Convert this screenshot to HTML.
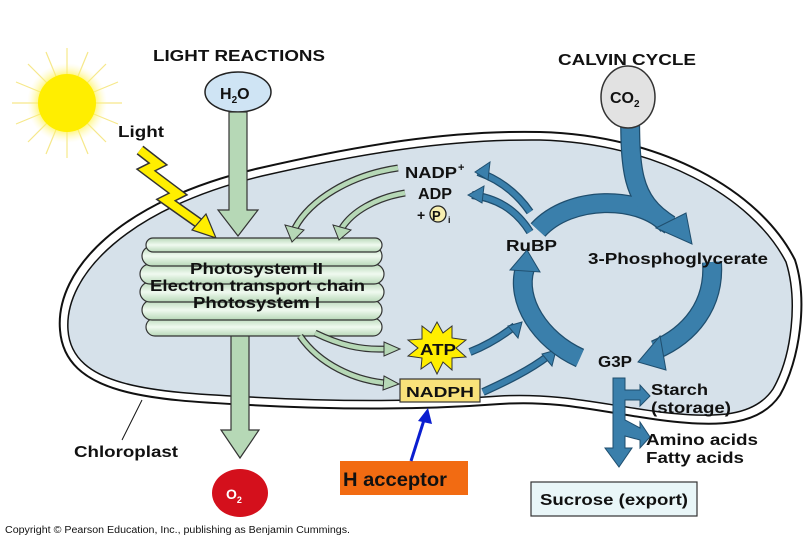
<!DOCTYPE html>
<html><head><meta charset="utf-8"><style>
html,body{margin:0;padding:0;background:#fff}
svg{display:block}
text{font-family:"Liberation Sans",Arial,sans-serif;font-weight:bold;fill:#111}
</style></head><body>
<svg width="810" height="540" viewBox="0 0 810 540" xmlns="http://www.w3.org/2000/svg">
<defs>
<radialGradient id="sun" cx="50%" cy="50%" r="50%">
<stop offset="0.55" stop-color="#ffee00"/><stop offset="1" stop-color="#fff8b0" stop-opacity="0"/>
</radialGradient>
<linearGradient id="disc" x1="0" y1="0" x2="0" y2="1">
<stop offset="0" stop-color="#b8d8b8"/><stop offset="0.5" stop-color="#f0faf0"/><stop offset="1" stop-color="#b8d8b8"/>
</linearGradient>
</defs>

<!-- chloroplast -->
<path d="M60,330 C55,270 120,200 260,168 C360,145 450,130 540,132 C660,135 760,190 795,260 C808,300 800,360 780,395 C760,425 720,428 660,420 C600,412 560,400 500,404 C420,410 340,410 250,405 C150,400 65,395 60,330 Z" fill="#fff" stroke="#111" stroke-width="2"/>
<path d="M68,330 C64,275 128,208 262,176 C362,153 450,139 540,140 C655,143 752,196 786,262 C798,300 792,356 773,389 C755,416 718,419 660,412 C600,404 560,393 500,396 C420,402 340,402 250,397 C155,392 72,388 68,330 Z" fill="#d6e1ea" stroke="#111" stroke-width="1.5"/>

<!-- sun -->
<g stroke="#f6e88a" stroke-width="1.2">
<line x1="67" y1="48" x2="67" y2="158"/><line x1="12" y1="103" x2="122" y2="103"/>
<line x1="28" y1="64" x2="106" y2="142"/><line x1="106" y1="64" x2="28" y2="142"/>
<line x1="46" y1="52" x2="88" y2="154"/><line x1="88" y1="52" x2="46" y2="154"/>
<line x1="16" y1="82" x2="118" y2="124"/><line x1="118" y1="82" x2="16" y2="124"/>
</g>
<circle cx="67" cy="103" r="40" fill="url(#sun)"/>
<circle cx="67" cy="103" r="29" fill="#ffee00"/>

<text x="153" y="61" font-size="16" textLength="172" lengthAdjust="spacingAndGlyphs">LIGHT REACTIONS</text>
<text x="558" y="65" font-size="16" textLength="138" lengthAdjust="spacingAndGlyphs">CALVIN CYCLE</text>
<text x="118" y="137" font-size="16" textLength="46" lengthAdjust="spacingAndGlyphs">Light</text>

<!-- lightning -->
<polyline points="140,150 158,164 146,170 178,194 166,200 200,224" fill="none" stroke="#333" stroke-width="11" stroke-linejoin="miter"/>
<polyline points="140,150 158,164 146,170 178,194 166,200 200,224" fill="none" stroke="#ffee00" stroke-width="8" stroke-linejoin="miter"/>
<polygon points="192,230 206,214 216,238" fill="#ffee00" stroke="#333" stroke-width="1.2"/>

<!-- H2O -->
<ellipse cx="238" cy="92" rx="33" ry="20" fill="#cfe4f4" stroke="#222" stroke-width="1.5"/>
<text x="220" y="99" font-size="16">H<tspan font-size="10" dy="4">2</tspan><tspan dy="-4">O</tspan></text>
<polygon points="229,112 247,112 247,210 258,210 238,236 218,210 229,210" fill="#b6d8b6" stroke="#333" stroke-width="1.2"/>

<!-- O2 arrow -->
<polygon points="231,330 249,330 249,430 259,430 240,458 221,430 231,430" fill="#b6d8b6" stroke="#333" stroke-width="1.2"/>
<ellipse cx="240" cy="493" rx="28" ry="24" fill="#d4101c"/>
<text x="226" y="499" font-size="14" style="fill:#fff">O<tspan font-size="9" dy="4">2</tspan></text>

<!-- thylakoid -->
<g stroke="#333" stroke-width="1.2" fill="url(#disc)">
<rect x="146" y="318" width="236" height="18" rx="9"/>
<rect x="142" y="300" width="240" height="20" rx="10"/>
<rect x="140" y="282" width="244" height="20" rx="10"/>
<rect x="140" y="264" width="244" height="20" rx="10"/>
<rect x="142" y="246" width="240" height="20" rx="10"/>
<rect x="146" y="238" width="236" height="14" rx="7"/>
</g>
<text x="190" y="274" font-size="16" textLength="133" lengthAdjust="spacingAndGlyphs">Photosystem II</text>
<text x="150" y="291" font-size="16" textLength="215" lengthAdjust="spacingAndGlyphs">Electron transport chain</text>
<text x="193" y="308" font-size="16" textLength="127" lengthAdjust="spacingAndGlyphs">Photosystem I</text>

<!-- green curved arrows -->
<g fill="none" stroke="#333" stroke-width="7">
<path d="M398,168 C350,175 310,200 295,228"/>
<path d="M405,193 C375,198 352,212 342,228"/>
<path d="M315,333 C340,345 360,350 385,349"/>
<path d="M300,336 C320,365 355,380 385,383"/>
</g>
<g fill="none" stroke="#b6d8b6" stroke-width="4.5">
<path d="M398,168 C350,175 310,200 295,228"/>
<path d="M405,193 C375,198 352,212 342,228"/>
<path d="M315,333 C340,345 360,350 385,349"/>
<path d="M300,336 C320,365 355,380 385,383"/>
</g>
<g fill="#b6d8b6" stroke="#333" stroke-width="1">
<polygon points="285,225 304,230 292,242"/>
<polygon points="333,225 351,230 339,240"/>
<polygon points="384,342 400,349 384,356"/>
<polygon points="384,376 399,384 383,390"/>
</g>

<text x="405" y="178" font-size="16" textLength="52" lengthAdjust="spacingAndGlyphs">NADP</text><text x="458" y="171" font-size="11">+</text>
<text x="418" y="199" font-size="16" textLength="34" lengthAdjust="spacingAndGlyphs">ADP</text>
<text x="417" y="220" font-size="14">+</text>
<circle cx="438" cy="214" r="8" fill="#f6eeb0" stroke="#222" stroke-width="1.3"/>
<text x="432" y="220" font-size="13">P</text>
<text x="448" y="223" font-size="9">i</text>

<!-- ATP star -->
<polygon points="437,322 443,333 452,326 452,338 466,340 456,348 466,357 452,358 452,370 443,362 437,374 431,362 421,369 422,358 408,356 418,348 408,340 422,339 422,326 431,333" fill="#ffee00" stroke="#333" stroke-width="1"/>
<text x="420" y="355" font-size="16" textLength="36" lengthAdjust="spacingAndGlyphs">ATP</text>

<!-- NADPH -->
<rect x="400" y="379" width="80" height="23" fill="#f9e27a" stroke="#333" stroke-width="1.2"/>
<text x="406" y="397" font-size="15" textLength="68" lengthAdjust="spacingAndGlyphs">NADPH</text>

<!-- H acceptor -->
<rect x="340" y="461" width="128" height="34" fill="#f26b12"/>
<text x="343" y="486" font-size="19" textLength="104" lengthAdjust="spacingAndGlyphs">H acceptor</text>
<line x1="411" y1="461" x2="424" y2="420" stroke="#0a1ed0" stroke-width="3"/>
<polygon points="428,408 432,424 418,421" fill="#0a1ed0"/>

<!-- blue arrows -->
<g fill="none" stroke="#1f4e6e" stroke-width="8">
<path d="M530,212 C515,190 495,178 478,172"/>
<path d="M530,232 C515,208 495,198 472,195"/>
<path d="M470,352 C488,345 502,336 515,326"/>
<path d="M483,392 C505,382 530,370 548,356"/>
</g>
<g fill="none" stroke="#3a7fab" stroke-width="5.5">
<path d="M530,212 C515,190 495,178 478,172"/>
<path d="M530,232 C515,208 495,198 472,195"/>
<path d="M470,352 C488,345 502,336 515,326"/>
<path d="M483,392 C505,382 530,370 548,356"/>
</g>
<g fill="#3a7fab" stroke="#1f4e6e" stroke-width="1">
<polygon points="475,172 490,162 488,180"/>
<polygon points="468,195 484,186 482,203"/>
<polygon points="522,322 518,338 508,326"/>
<polygon points="556,350 552,366 542,354"/>
</g>

<!-- cycle -->
<g fill="none" stroke="#1f4e6e" stroke-width="20">
<path d="M538,230 C570,195 640,195 668,225"/>
<path d="M580,358 C540,340 515,300 525,268"/>
<path d="M712,262 C715,305 690,335 655,350"/>
<path d="M630,100 C630,170 630,200 670,225"/>
</g>
<g fill="none" stroke="#3a7fab" stroke-width="17.5">
<path d="M538,230 C570,195 640,195 668,225"/>
<path d="M580,358 C540,340 515,300 525,268"/>
<path d="M712,262 C715,305 690,335 655,350"/>
<path d="M630,100 C630,170 630,200 670,225"/>
</g>
<g fill="#3a7fab" stroke="#1f4e6e" stroke-width="1">
<polygon points="656,228 686,213 692,244"/>
<polygon points="510,270 527,250 540,272"/>
<polygon points="660,336 666,370 638,362"/>
</g>

<!-- CO2 -->
<ellipse cx="628" cy="97" rx="27" ry="31" fill="#e2e2e2" stroke="#333" stroke-width="1.5"/>
<text x="610" y="103" font-size="16">CO<tspan font-size="10" dy="4">2</tspan></text>

<text x="506" y="251" font-size="16" textLength="51" lengthAdjust="spacingAndGlyphs">RuBP</text>
<text x="588" y="264" font-size="16" textLength="180" lengthAdjust="spacingAndGlyphs">3-Phosphoglycerate</text>
<text x="598" y="367" font-size="16" textLength="34" lengthAdjust="spacingAndGlyphs">G3P</text>

<!-- output arrows -->
<g fill="#3a7fab" stroke="#1f4e6e" stroke-width="1">
<polygon points="613,378 625,378 625,390 640,390 640,385 650,396 640,406 640,400 625,400 625,420 640,428 640,422 650,437 640,448 640,440 625,436 625,448 632,448 619,467 605,448 613,448"/>
</g>
<text x="651" y="395" font-size="16" textLength="57" lengthAdjust="spacingAndGlyphs">Starch</text>
<text x="651" y="413" font-size="16" textLength="80" lengthAdjust="spacingAndGlyphs">(storage)</text>
<text x="646" y="445" font-size="16" textLength="112" lengthAdjust="spacingAndGlyphs">Amino acids</text>
<text x="646" y="463" font-size="16" textLength="98" lengthAdjust="spacingAndGlyphs">Fatty acids</text>

<rect x="531" y="482" width="166" height="34" fill="#e9f6f8" stroke="#333" stroke-width="1.2"/>
<text x="540" y="505" font-size="16" textLength="148" lengthAdjust="spacingAndGlyphs">Sucrose (export)</text>

<text x="74" y="457" font-size="16" textLength="104" lengthAdjust="spacingAndGlyphs">Chloroplast</text>
<line x1="122" y1="440" x2="142" y2="400" stroke="#111" stroke-width="1"/>

<text x="5" y="533" font-size="10" style="font-weight:normal" textLength="345" lengthAdjust="spacingAndGlyphs">Copyright © Pearson Education, Inc., publishing as Benjamin Cummings.</text>
</svg>
</body></html>
